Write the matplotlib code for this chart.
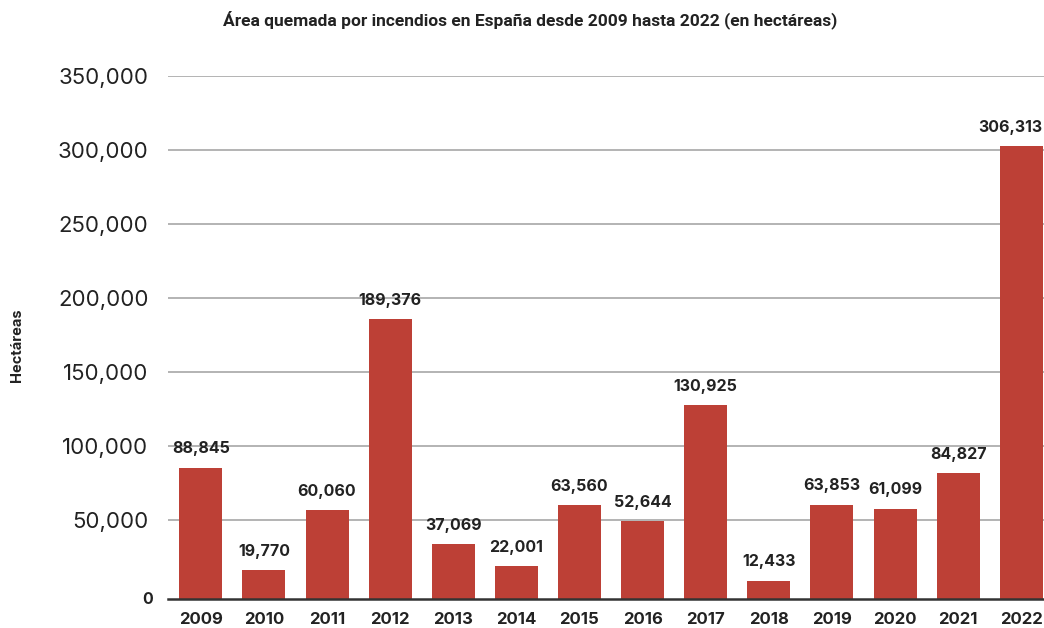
import matplotlib
matplotlib.use("Agg")
import matplotlib.pyplot as plt
import numpy as np

# data
years = ["2009", "2010", "2011", "2012", "2013", "2014", "2015",
         "2016", "2017", "2018", "2019", "2020", "2021", "2022"]
hectares = [88845, 19770, 60060, 189376, 37069, 22001, 63560,
            52644, 130925, 12433, 63853, 61099, 84827, 306313]
grid_ticks = [50000, 100000, 150000, 200000, 250000, 300000, 350000]

title = "Área quemada por incendios en España desde 2009 hasta 2022 (en hectáreas)"
ylabel = "Hectáreas"

BAR_COLOR = "#bd4036"
TEXT_COLOR = "#222222"
GRID_COLOR = "#b3b3b3"
BASE = -3500  # the baseline sits a little below where zero would be
BAR_W = 0.68

plt.rcParams["font.family"] = ["Inter", "DejaVu Sans"]

fig = plt.figure(figsize=(10.44, 6.28), dpi=100)
ax = fig.add_axes([168 / 1044, 1 - 599 / 628, 876 / 1044, (599 - 76) / 628])

x = np.arange(len(years))
ax.bar(x, hectares, bottom=BASE, width=BAR_W, color=BAR_COLOR, zorder=3)

for i, (xi, v) in enumerate(zip(x, hectares)):
    last = i == len(hectares) - 1
    # the last label is pushed left so it stays inside the figure
    ax.annotate(f"{v:,}", (xi + BAR_W / 2 if last else xi, BASE + v),
                xytext=(0, 8), textcoords="offset points",
                ha="right" if last else "center", va="bottom",
                fontsize=11.5, fontweight="bold", color=TEXT_COLOR)

ax.set_xlim(-0.52, len(years) - 1 + 0.36)
ax.set_ylim(BASE, 350000)

ax.set_yticks(grid_ticks)
ax.set_yticklabels([f"{t:,}" for t in grid_ticks], fontsize=16, color=TEXT_COLOR)
ax.tick_params(axis="y", length=0, pad=14)
ax.text(-0.017, BASE, "0", transform=ax.get_yaxis_transform(), ha="right", va="center",
        fontsize=11.5, fontweight="bold", color=TEXT_COLOR)

ax.set_xticks(x)
ax.set_xticklabels(years, fontsize=12, fontweight="bold", color=TEXT_COLOR)
ax.tick_params(axis="x", length=0, pad=9)

ax.grid(axis="y", color=GRID_COLOR, lw=1.4, zorder=1)
ax.set_axisbelow(True)
ax.axhline(BASE, color="#333333", lw=1.8, zorder=4, clip_on=False)

for s in ax.spines.values():
    s.set_visible(False)

fig.text(17 / 1044, 1 - 345 / 628, ylabel, rotation=90, ha="center", va="center",
         fontsize=10.5, fontweight="bold", color=TEXT_COLOR)
fig.text(530 / 1044, 1 - 20 / 628, title, ha="center", va="center",
         fontsize=12.5, fontweight="bold", color=TEXT_COLOR,
         family=["Liberation Sans Narrow", "Roboto", "DejaVu Sans"])

fig.savefig("out.png", dpi=100)
